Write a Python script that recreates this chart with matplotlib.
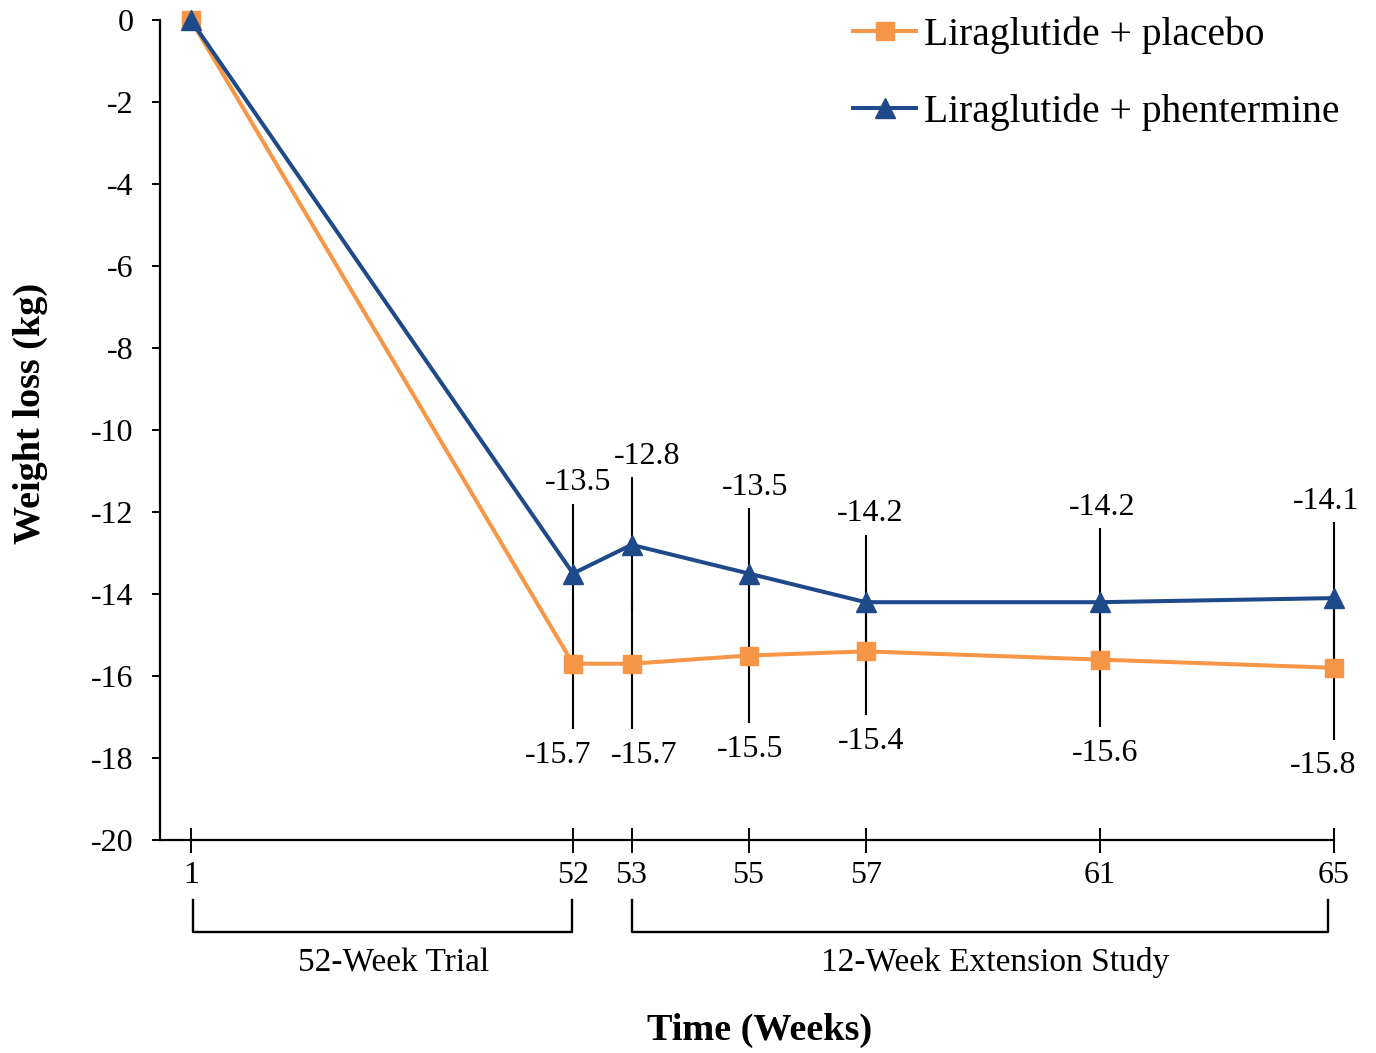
import numpy as np
import matplotlib
matplotlib.use("Agg")
import matplotlib.pyplot as plt
from matplotlib.transforms import offset_copy

# ---------------- data ----------------
weeks = [1, 52, 53, 55, 57, 61, 65]
placebo = [0.0, -15.7, -15.7, -15.5, -15.4, -15.6, -15.8]
phentermine = [0.0, -13.5, -12.8, -13.5, -14.2, -14.2, -14.1]
placebo_err = [0.0, 1.6, 1.6, 1.65, 1.55, 1.65, 1.75]
phentermine_err = [0.0, 1.7, 1.65, 1.6, 1.65, 1.8, 1.85]
series_names = ["Liraglutide + placebo", "Liraglutide + phentermine"]
periods = [("52-Week Trial", 1, 52), ("12-Week Extension Study", 53, 65)]
yticks = list(range(0, -21, -2))

# ---------------- style ----------------
plt.rcParams["font.family"] = ["Liberation Serif", "DejaVu Serif"]
plt.rcParams["axes.unicode_minus"] = False
ORANGE = "#F79646"
BLUE = "#1F4A8A"

# compressed scale before week 52
K = 0.128
def fwd(w):
    w = np.asarray(w, dtype=float)
    return np.where(w >= 52, w, 52 - (52 - w) * K)
def inv(t):
    t = np.asarray(t, dtype=float)
    return np.where(t >= 52, t, 52 - (52 - t) / K)

W, H = 1376, 1053
fig = plt.figure(figsize=(W / 100, H / 100), dpi=100)
ax = fig.add_axes([160 / W, 1 - 840 / H, (1334 - 160) / W, 820 / H])
ax.set_xscale("function", functions=(fwd, inv))
xmin = float(inv(52 - (573 - 160) / 58.54))
ax.set_xlim(xmin, 65)
ax.set_ylim(-20, 0)

# error bars (behind lines)
ax.errorbar(weeks[1:], phentermine[1:], yerr=phentermine_err[1:], fmt="none",
            ecolor="black", elinewidth=1.5, capsize=0, zorder=1, clip_on=False)
ax.errorbar(weeks[1:], placebo[1:], yerr=placebo_err[1:], fmt="none",
            ecolor="black", elinewidth=1.5, capsize=0, zorder=1, clip_on=False)

ax.plot(weeks, placebo, color=ORANGE, lw=2.9, marker="s", ms=13,
        mec=ORANGE, mfc=ORANGE, zorder=3, clip_on=False, label=series_names[0])
ax.plot(weeks, phentermine, color=BLUE, lw=2.9, marker="^", ms=15,
        mec=BLUE, mfc=BLUE, zorder=4, clip_on=False, label=series_names[1])

# value labels
nudge_top = {52: 4, 53: 11, 55: 5, 57: 3, 61: 2, 65: -6}
nudge_bot = {52: -11, 53: 9, 55: 1, 57: 4, 61: 4, 65: -8}
for w, v, e in zip(weeks[1:], phentermine[1:], phentermine_err[1:]):
    ax.annotate(f"{v:.1f}", xy=(w, v + e), xytext=(nudge_top[w], 15),
                textcoords="offset points", ha="center", va="center",
                fontsize=23, annotation_clip=False)
for w, v, e in zip(weeks[1:], placebo[1:], placebo_err[1:]):
    ax.annotate(f"{v:.1f}", xy=(w, v - e), xytext=(nudge_bot[w], -19),
                textcoords="offset points", ha="center", va="center",
                fontsize=23, annotation_clip=False)

# axes styling
for s in ["top", "right"]:
    ax.spines[s].set_visible(False)
ax.spines["left"].set_linewidth(1.6)
ax.spines["bottom"].set_linewidth(1.6)
ax.spines["left"].set_capstyle("projecting")
ax.set_yticks(yticks)
ax.set_yticklabels([str(t) for t in yticks])
ax.set_xticks(weeks)
ax.set_xticklabels([str(w) for w in weeks])
ax.tick_params(axis="y", direction="out", length=6, width=1.4, pad=13, labelsize=23)
ax.tick_params(axis="x", direction="inout", length=18, width=1.4, pad=6, labelsize=23)
ax.minorticks_off()

# period brackets
bt = ax.get_xaxis_transform()
y_top, y_bot = -0.073, -0.112
label_tr = offset_copy(bt, fig=fig, x=12, y=0, units="dots")
for name, a, b in periods:
    xa = a + (0.35 if a == 1 else 0)
    xb = b - 0.1
    ax.plot([xa, xa, xb, xb], [y_top, y_bot, y_bot, y_top], color="black",
            lw=1.7, transform=bt, clip_on=False, solid_joinstyle="round")
    mid = float(inv((fwd(a) + fwd(b)) / 2))
    ax.text(mid, -0.150, name, transform=label_tr, ha="center", va="center",
            fontsize=24)

fig.text(760 / W, 1 - 1030 / H, "Time (Weeks)", ha="center", va="center",
         fontsize=27.5, fontweight="bold")
fig.text(30 / W, 1 - 413 / H, "Weight loss (kg)", ha="center", va="center",
         rotation=90, fontsize=27.5, fontweight="bold")

# legend
leg = fig.legend(loc="upper left", bbox_to_anchor=(853 / W, 1 - 16 / H),
                 frameon=False, fontsize=28.5, handlelength=1.6, handletextpad=0.2,
                 labelspacing=1.0, borderpad=0, borderaxespad=0)

fig.savefig("out.png", dpi=100)
